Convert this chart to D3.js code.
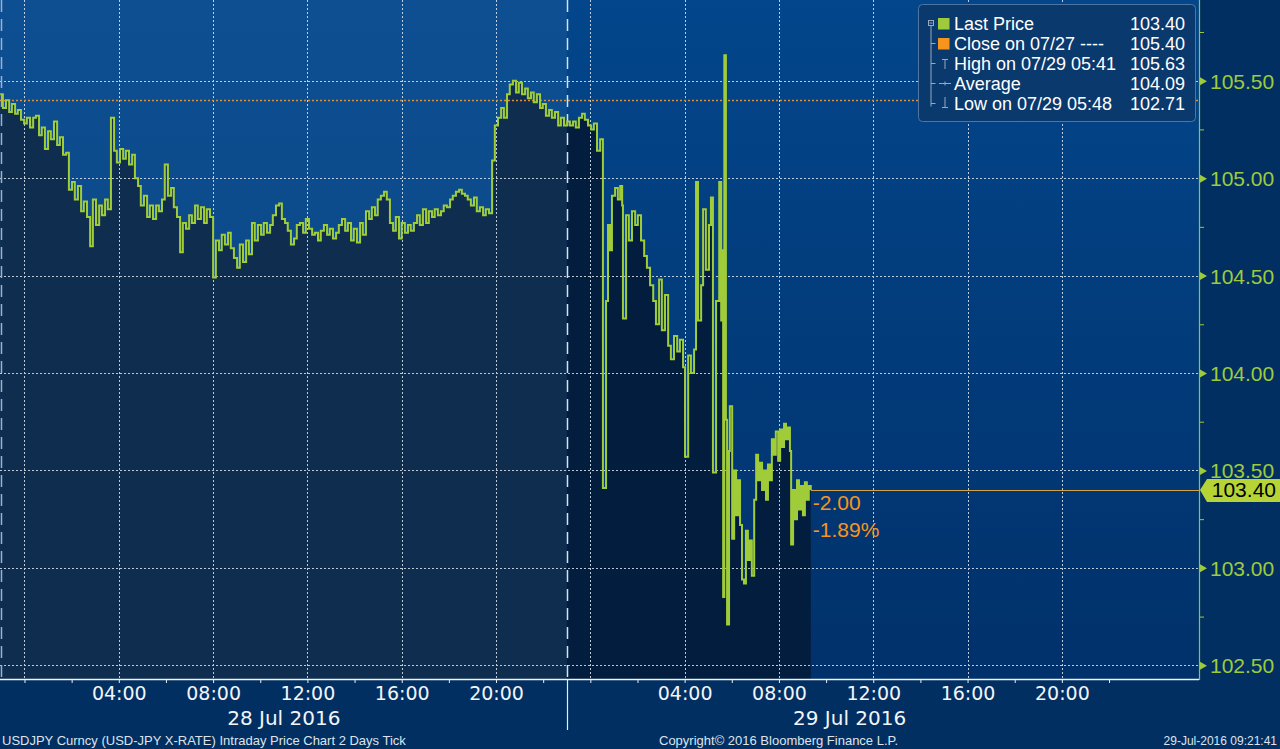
<!DOCTYPE html>
<html><head><meta charset="utf-8">
<script src="https://cdn.jsdelivr.net/npm/d3@7"></script>
<style>html,body{margin:0;padding:0;background:#022f62;overflow:hidden}</style>
</head><body>
<svg id="chart" width="1280" height="749"></svg>
<script>
// ---- data (minutes since 28 Jul 2016 00:00, USDJPY price) ----
const tickMinutes = [-62,-55,-47,-39,-32,-24,-17,-9,-1,6,14,22,29,37,44,52,60,67,75,83,90,98,106,113,121,128,136,144,151,159,167,174,182,190,197,205,212,220,228,235,243,251,258,266,274,281,289,296,304,312,319,327,335,342,350,357,365,373,380,388,396,403,411,419,426,434,441,449,457,464,472,480,487,495,502,510,518,525,533,541,548,556,564,571,579,586,594,602,609,617,625,632,640,648,655,663,670,678,686,693,701,709,716,724,732,739,747,754,762,770,777,785,793,800,808,816,823,831,838,846,854,861,869,877,884,892,899,907,915,922,930,938,945,953,960,968,976,983,991,999,1006,1014,1022,1029,1037,1044,1052,1060,1067,1075,1083,1090,1098,1106,1113,1121,1128,1136,1144,1151,1159,1167,1174,1182,1190,1197,1205,1213,1220,1228,1235,1243,1251,1258,1266,1274,1281,1289,1296,1304,1312,1319,1327,1335,1342,1350,1358,1365,1373,1381,1388,1396,1403,1411,1419,1426,1434,1442,1449,1457,1465,
1472,1480,1485,1490,1495,1503,1510,1516,1521,1523,
1531,1538,1546,1554,1561,1569,1577,1584,1592,1600,1607,1615,1622,1630,1638,1645,1653,1661,1668,1676,
1681,1689,1696,1704,1709,1714,1722,1727,1734,1742,1747,1752,1760,1768,1773,1775,1778,1781,1785,1788,
1793,1795,
1801,1806,1811,1816,1821,1826,1831,1836,1841,1846,1851,1857,1862,1867,1872,1877,1882,1887,1892,1897,1902,1907,1912,1918,1923,1928,1933,1938,1943,1948,
1951,
1956,1961,1966,1971,1976,1981,1986,1991,1996,2001];

const tickPrices = [105.43,105.36,105.40,105.34,105.38,105.33,105.35,105.30,105.28,105.31,105.26,105.31,105.32,105.22,105.26,105.15,105.24,105.20,105.29,105.17,105.21,105.12,105.13,104.94,104.98,104.89,104.96,104.83,104.88,104.80,104.65,104.89,104.76,104.86,104.81,104.89,104.84,105.31,105.14,105.08,105.15,105.10,105.14,105.07,105.12,105.00,104.96,104.86,104.91,104.80,104.86,104.79,104.86,104.83,104.89,105.07,104.91,104.95,104.85,104.80,104.62,104.77,104.74,104.81,104.77,104.86,104.79,104.85,104.77,104.84,104.80,104.49,
104.68,104.63,104.71,104.66,104.72,104.64,104.59,104.54,104.66,104.57,104.68,104.61,104.77,104.68,104.76,104.71,104.77,104.72,104.76,104.81,104.86,104.87,104.79,104.77,104.73,104.66,104.69,104.76,104.77,104.72,104.79,104.74,104.71,104.72,104.68,104.73,104.76,104.71,104.74,104.69,104.72,104.76,104.79,104.73,104.77,104.68,104.74,104.67,104.77,104.71,104.83,104.79,104.85,104.81,104.89,104.91,104.93,104.89,104.77,104.73,104.80,104.69,104.77,104.72,104.76,104.73,104.77,104.81,104.76,104.84,104.77,104.83,104.80,104.84,104.81,104.83,104.86,104.85,104.89,104.91,104.93,104.94,104.92,104.91,104.89,104.86,104.90,104.83,104.85,104.81,104.84,104.82,
105.09,105.27,105.31,105.36,105.31,105.43,105.48,105.50,105.44,105.49,105.43,105.46,105.41,105.44,105.39,105.43,105.36,105.38,105.32,105.35,105.31,105.34,105.27,105.31,105.27,105.29,105.27,105.29,105.26,105.31,105.33,105.30,105.27,105.25,105.28,105.14,105.20,
103.41,104.37,104.76,104.63,104.91,104.95,104.89,104.96,104.86,104.28,
104.81,104.68,104.83,104.76,104.81,104.68,104.60,104.54,104.45,104.37,104.25,104.48,104.22,104.40,104.14,104.07,104.19,104.11,104.17,104.03,
103.57,104.09,104.00,104.12,104.98,104.27,104.45,104.84,104.53,104.76,104.90,103.49,104.37,104.98,104.27,104.63,102.85,105.63,103.76,102.71,
103.60,103.83,
103.15,103.50,103.27,103.45,103.22,102.94,102.92,103.19,103.04,103.14,102.96,103.35,103.58,103.45,103.54,103.40,103.50,103.35,103.53,103.45,103.66,103.58,103.70,103.55,103.71,103.62,103.74,103.66,103.72,103.60,
103.12,
103.40,103.25,103.45,103.30,103.42,103.27,103.44,103.35,103.42,103.40];

const yTickValues = [102.5, 103.0, 103.5, 104.0, 104.5, 105.0, 105.5];
const yMinorValues = [102.75, 103.25, 103.75, 104.25, 104.75, 105.25, 105.75];
const xTickMinutes = [0,120,240,360,480,600,720,840,960,1080,1200,1320,1440,1560,1680,1800,1920,2040,2160,2280,2400,2520,2640,2760];
const gridMinutes = [0,240,480,720,960,1200,1440,1680,1920,2160,2400,2640];
const timeLabelMinutes = [240,480,720,960,1200,1680,1920,2160,2400,2640];
const timeLabels = ["04:00","08:00","12:00","16:00","20:00","04:00","08:00","12:00","16:00","20:00"];
const daySeparatorMinutes = [-60, 1380];
const dayLabelMinutes = [660, 2100];
const dayLabels = ["28 Jul 2016", "29 Jul 2016"];
const closePrice = 105.40;
const lastPrice = 103.40;
const lastMinute = 2001;
const legendLabels = ["Last Price", "Close on 07/27 ----", "High on 07/29 05:41", "Average", "Low on 07/29 05:48"];
const legendValues = ["103.40", "105.40", "105.63", "104.09", "102.71"];
const changeLabels = ["-2.00", "-1.89%"];
const footerLeft = "USDJPY Curncy (USD-JPY X-RATE) Intraday Price Chart 2 Days  Tick";
const footerCenter = "Copyright\u00A9 2016 Bloomberg Finance L.P.";
const footerRight = "29-Jul-2016 09:21:41";

// ---- layout ----
const plotR = 1199, plotB = 679;
const FONT = "'Liberation Sans', Arial, sans-serif";
const svg = d3.select("#chart");

const x = d3.scaleLinear().domain([-62.35, 2989]).range([0, plotR]);
const y = d3.scaleLinear().domain([102.5, 105.5]).range([665.3, 80.7]);
const sepX = x(daySeparatorMinutes[1]);

const defs = svg.append("defs");
function grad(id, c0, c1) {
  const g = defs.append("linearGradient").attr("id", id).attr("x1", 0).attr("y1", 0).attr("x2", 0).attr("y2", 1);
  g.append("stop").attr("offset", "0%").attr("stop-color", c0);
  g.append("stop").attr("offset", "100%").attr("stop-color", c1);
}
grad("bgRight", "#03468b", "#01316a");
grad("bgLeft", "#0d4f92", "#0a437f");
defs.append("clipPath").attr("id", "clipL").append("rect").attr("x", 0).attr("y", 0).attr("width", sepX).attr("height", plotB);
defs.append("clipPath").attr("id", "clipR").append("rect").attr("x", sepX).attr("y", 0).attr("width", plotR - sepX).attr("height", plotB);

// backgrounds
svg.append("rect").attr("width", 1280).attr("height", 749).attr("fill", "#022f62");
svg.append("rect").attr("x", 0).attr("y", 0).attr("width", plotR).attr("height", plotB).attr("fill", "url(#bgRight)");
svg.append("rect").attr("x", 0).attr("y", 0).attr("width", sepX).attr("height", plotB).attr("fill", "url(#bgLeft)");

const data = tickMinutes.slice(0, Math.min(tickMinutes.length, tickPrices.length)).map((m, i) => ({ m, p: tickPrices[i] }));

const area = d3.area().x(d => x(d.m)).y0(plotB).y1(d => y(d.p)).curve(d3.curveStepAfter);
svg.append("path").datum(data).attr("d", area).attr("fill", "#0f2d4f").attr("clip-path", "url(#clipL)");
svg.append("path").datum(data).attr("d", area).attr("fill", "#021d3e").attr("clip-path", "url(#clipR)");

// gridlines
const grid = svg.append("g").attr("stroke", "#dfe6ef").attr("stroke-width", 1).attr("stroke-dasharray", "2,2").attr("opacity", 0.85);
grid.selectAll("line.h").data(yTickValues).join("line").attr("class", "h")
  .attr("x1", 0).attr("x2", plotR).attr("y1", d => Math.round(y(d)) + 0.5).attr("y2", d => Math.round(y(d)) + 0.5);
grid.selectAll("line.v").data(gridMinutes).join("line").attr("class", "v")
  .attr("x1", d => Math.round(x(d)) + 0.5).attr("x2", d => Math.round(x(d)) + 0.5).attr("y1", 0).attr("y2", plotB);

// close line
svg.append("line").attr("x1", 0).attr("x2", plotR).attr("y1", Math.round(y(closePrice)) + 0.5).attr("y2", Math.round(y(closePrice)) + 0.5)
  .attr("stroke", "#e38b35").attr("stroke-width", 1.3).attr("stroke-dasharray", "2,2");

// day separators
svg.selectAll("line.sep").data(daySeparatorMinutes).join("line").attr("class", "sep")
  .attr("x1", d => Math.max(1, Math.round(x(d))) + 0.5).attr("x2", d => Math.max(1, Math.round(x(d))) + 0.5)
  .attr("y1", 0).attr("y2", plotB)
  .attr("stroke", (d, i) => i === 0 ? "#9fb0c8" : "#d8e2ee").attr("stroke-width", 1.5).attr("stroke-dasharray", "12,7");
svg.append("line").attr("x1", Math.round(sepX) + 0.5).attr("x2", Math.round(sepX) + 0.5).attr("y1", plotB).attr("y2", 730)
  .attr("stroke", "#e8eef5").attr("stroke-width", 1.2);

// price line
const line = d3.line().x(d => x(d.m)).y(d => y(d.p)).curve(d3.curveStepAfter);
svg.append("path").datum(data).attr("d", line).attr("fill", "none").attr("stroke", "#a0cc3a").attr("stroke-width", 2);

// last price line
svg.append("line").attr("x1", x(lastMinute)).attr("x2", plotR).attr("y1", Math.round(y(lastPrice)) + 0.5).attr("y2", Math.round(y(lastPrice)) + 0.5)
  .attr("stroke", "#d3a24a").attr("stroke-width", 1.2);

// change labels
svg.selectAll("text.chg").data(changeLabels).join("text").attr("class", "chg")
  .attr("x", x(lastMinute) + 2).attr("y", (d, i) => 510 + i * 27)
  .attr("fill", "#f7941d").attr("font-family", FONT).attr("font-size", 21).text(d => d);

// bottom axis (ticks)
const xAxisG = svg.append("g").attr("transform", `translate(0,${plotB})`)
  .call(d3.axisBottom(x).tickValues(xTickMinutes).tickSize(4).tickSizeOuter(0).tickFormat(""));
xAxisG.select(".domain").remove();
xAxisG.selectAll(".tick line").attr("stroke", "#e8eef5");
svg.append("line").attr("x1", 0).attr("x2", plotR).attr("y1", plotB + 0.5).attr("y2", plotB + 0.5).attr("stroke", "#eef3f8").attr("stroke-width", 1.3);

// time labels
const tl = svg.append("g").attr("transform", `translate(0,${plotB})`)
  .call(d3.axisBottom(x).tickValues(timeLabelMinutes).tickSize(0).tickFormat((d, i) => timeLabels[i]));
tl.select(".domain").remove();
tl.selectAll("text").attr("y", 21).attr("dy", 0).attr("fill", "#f2f5f9")
  .attr("font-family", "'DejaVu Sans', sans-serif").attr("font-size", 19);

// day labels
svg.selectAll("text.day").data(dayLabels).join("text").attr("class", "day")
  .attr("x", (d, i) => x(dayLabelMinutes[i])).attr("y", 725).attr("text-anchor", "middle")
  .attr("fill", "#f2f5f9").attr("font-family", "'DejaVu Sans', sans-serif").attr("font-size", 20).text(d => d);

// right axis
svg.append("line").attr("x1", plotR + 0.5).attr("x2", plotR + 0.5).attr("y1", 0).attr("y2", plotB + 1).attr("stroke", "#8cc63f").attr("stroke-width", 1.2);
const yAxisG = svg.append("g").attr("transform", `translate(${plotR},0)`)
  .call(d3.axisRight(y).tickValues(yTickValues).tickSize(0).tickPadding(11).tickFormat(d3.format(".2f")));
yAxisG.select(".domain").remove();
yAxisG.selectAll("text").attr("fill", "#9dcb3b").attr("font-family", FONT).attr("font-size", 21).attr("dy", "0.36em");
yAxisG.selectAll(".tick").append("path").attr("d", "M1,-4L8,0L1,4Z").attr("fill", "#9dcb3b");
const yMinorG = svg.append("g").attr("transform", `translate(${plotR},0)`)
  .call(d3.axisRight(y).tickValues(yMinorValues).tickSize(5).tickFormat(""));
yMinorG.select(".domain").remove();
yMinorG.selectAll(".tick line").attr("stroke", "#9dcb3b");

// last price tag (drawn over the neighbouring 103.50 label, as in the original)
const ly = y(lastPrice);
svg.append("path").attr("d", `M${plotR + 1},${ly} L${plotR + 8},${ly - 11} L1280,${ly - 11} L1280,${ly + 12} L${plotR + 8},${ly + 12} Z`)
  .attr("fill", "#b6d436");
svg.append("text").attr("x", 1276).attr("y", ly).attr("dy", "0.36em").attr("text-anchor", "end")
  .attr("fill", "#000").attr("font-family", FONT).attr("font-size", 21).text(lastPrice.toFixed(2));

// legend
const lg = svg.append("g");
lg.append("rect").attr("x", 918.5).attr("y", 4.5).attr("width", 277).attr("height", 117).attr("rx", 4)
  .attr("fill", "#0a396d").attr("stroke", "#4f76a2").attr("stroke-width", 1);
const rowY = i => 30 + i * 20;
lg.selectAll("text.ll").data(legendLabels).join("text").attr("class", "ll")
  .attr("x", 954).attr("y", (d, i) => rowY(i)).attr("fill", "#ffffff").attr("font-family", FONT).attr("font-size", 18).text(d => d);
lg.selectAll("text.lv").data(legendValues).join("text").attr("class", "lv")
  .attr("x", 1185).attr("y", (d, i) => rowY(i)).attr("text-anchor", "end").attr("fill", "#ffffff").attr("font-family", FONT).attr("font-size", 18).text(d => d);
lg.append("rect").attr("x", 938).attr("y", 18).attr("width", 11.5).attr("height", 11.5).attr("fill", "#9dcb3b");
lg.append("rect").attr("x", 938).attr("y", 38).attr("width", 11.5).attr("height", 11.5).attr("fill", "#f7941d");
const tree = lg.append("g").attr("stroke", "#98a9c0").attr("stroke-width", 1).attr("fill", "none");
tree.append("rect").attr("x", 928.5).attr("y", 20.5).attr("width", 5).attr("height", 5);
tree.append("line").attr("x1", 929.5).attr("x2", 932.5).attr("y1", 23).attr("y2", 23);
tree.append("line").attr("x1", 931).attr("x2", 931).attr("y1", 26).attr("y2", 106.5);
[1, 2, 3, 4].forEach(i => tree.append("line").attr("x1", 931).attr("x2", 935.5).attr("y1", rowY(i) - 6.5).attr("y2", rowY(i) - 6.5));
// high icon
tree.append("line").attr("x1", 942).attr("x2", 948).attr("y1", 59.5).attr("y2", 59.5);
tree.append("line").attr("x1", 945).attr("x2", 945).attr("y1", 59.5).attr("y2", 69);
// average icon
tree.append("line").attr("x1", 939).attr("x2", 951).attr("y1", 83.5).attr("y2", 83.5);
tree.append("line").attr("x1", 945).attr("x2", 945).attr("y1", 81.5).attr("y2", 85.5);
// low icon
tree.append("line").attr("x1", 945).attr("x2", 945).attr("y1", 97).attr("y2", 107.5);
tree.append("line").attr("x1", 942).attr("x2", 948).attr("y1", 107.5).attr("y2", 107.5);

// footer
const ft = svg.append("g").attr("font-family", FONT).attr("fill", "#dde4ec");
ft.append("text").attr("x", 2).attr("y", 745).attr("font-size", 13).text(footerLeft);
ft.append("text").attr("x", 659).attr("y", 745).attr("font-size", 13).text(footerCenter);
ft.append("text").attr("x", 1277).attr("y", 745).attr("font-size", 12).attr("text-anchor", "end").text(footerRight);
</script>
</body></html>
